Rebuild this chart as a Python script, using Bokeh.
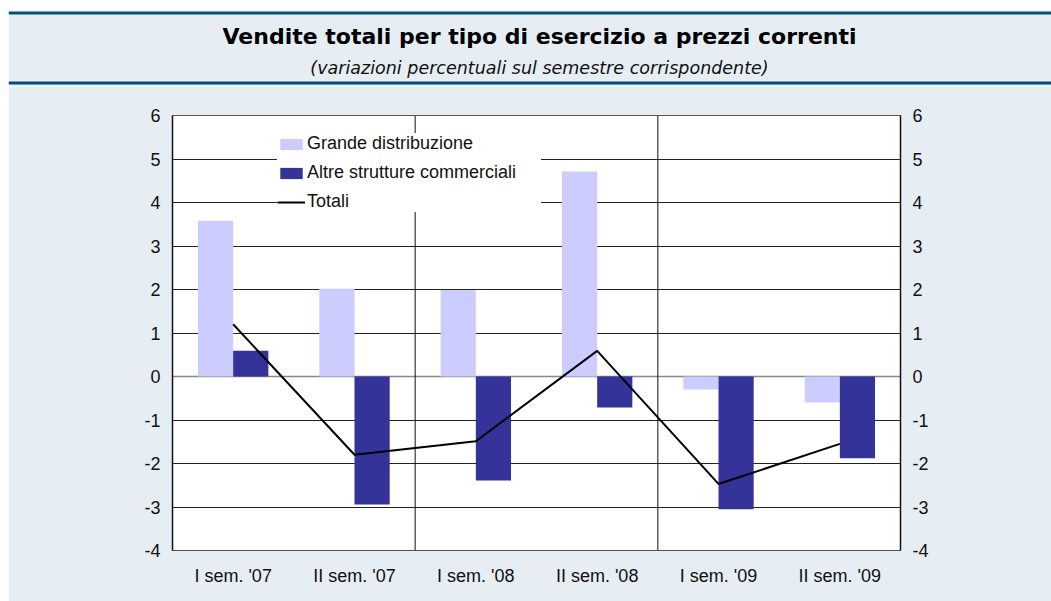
from bokeh.plotting import figure
from bokeh.models import (FactorRange, Range1d, LinearAxis, FixedTicker, Span,
                          Legend, LegendItem, ColumnDataSource, PrintfTickFormatter)
from bokeh.layouts import column
from bokeh.transform import dodge
from bokeh.core.properties import value
from bokeh.embed import file_html
from bokeh.resources import INLINE

# ---- data -------------------------------------------------------------
categories = ["I sem. '07", "II sem. '07", "I sem. '08", "II sem. '08", "I sem. '09", "II sem. '09"]
grande_distribuzione = [3.58, 2.02, 1.99, 4.71, -0.30, -0.60]
altre_strutture = [0.59, -2.94, -2.39, -0.71, -3.05, -1.88]
totali = [1.20, -1.80, -1.49, 0.59, -2.47, -1.55]
y_ticks = [-4, -3, -2, -1, 0, 1, 2, 3, 4, 5, 6]

title_text = "Vendite totali per tipo di esercizio a prezzi correnti"
subtitle_text = "(variazioni percentuali sul semestre corrispondente)"

# ---- style ------------------------------------------------------------
BG = "#E6EEF4"
DARK = "#00507A"
C_GRANDE = "#CCCCFF"
C_ALTRE = "#333399"
FONT = "Liberation Sans"
W = 1043

# ---- header -----------------------------------------------------------
HH = 86
h = figure(width=W, height=HH, x_range=Range1d(0, W), y_range=Range1d(HH, 0),
           x_axis_type=None, y_axis_type=None, toolbar_location=None,
           output_backend="svg", min_border=0, outline_line_color=None,
           background_fill_color="white", border_fill_color="white")
h.margin = (0, 0, 0, 8)
try:
    h.frame_align = False
except Exception:
    pass
h.grid.visible = False
h.quad(left=[0], right=[W], top=[14], bottom=[HH], fill_color=BG, line_color=None)
h.quad(left=[0], right=[W], top=[11], bottom=[14], fill_color=DARK, line_color=None)
h.quad(left=[0], right=[W], top=[81], bottom=[84], fill_color=DARK, line_color=None)
h.text(x=[531], y=[36], text=[title_text], text_align="center", text_baseline="alphabetic",
       text_font=value("DejaVu Sans"), text_font_style="bold", text_font_size="22px",
       text_color="#000000")
h.text(x=[531], y=[67.5], text=[subtitle_text], text_align="center", text_baseline="alphabetic",
       text_font=value("DejaVu Sans"), text_font_style="italic", text_font_size="17.5px",
       text_color="#111111")

# ---- main chart -------------------------------------------------------
p = figure(width=W, height=515, x_range=FactorRange(factors=categories),
           y_range=Range1d(-4, 6), toolbar_location=None, output_backend="svg",
           min_border_left=164, min_border_right=151, min_border_top=29,
           min_border_bottom=51, background_fill_color="white",
           border_fill_color=BG, outline_line_color="#555555")
p.margin = (0, 0, 0, 8)
try:
    p.frame_align = False
except Exception:
    pass

p.xgrid.visible = False
p.ygrid.ticker = FixedTicker(ticks=y_ticks)
p.ygrid.grid_line_color = "#222222"
p.ygrid.grid_line_width = 1

src = ColumnDataSource(dict(cat=categories, g=grande_distribuzione,
                            a=altre_strutture, t=totali))

r_g = p.vbar(x=dodge("cat", -0.145, range=p.x_range), top="g", bottom=0, width=0.29,
             source=src, fill_color=C_GRANDE, line_color=None)
r_a = p.vbar(x=dodge("cat", 0.145, range=p.x_range), top="a", bottom=0, width=0.29,
             source=src, fill_color=C_ALTRE, line_color=None)
r_t = p.line(x="cat", y="t", source=src, line_color="black", line_width=2)

# zero line
p.add_layout(Span(location=0, dimension="width", line_color="#888888", line_width=1.5,
                  level="underlay"))
# year separators
years = [c.split("'")[-1] for c in categories]
for i in range(1, len(categories)):
    if years[i] != years[i - 1]:
        p.add_layout(Span(location=i, dimension="height", line_color="#111111",
                          line_width=1, level="underlay"))

# axes
p.yaxis.ticker = FixedTicker(ticks=y_ticks)
right = LinearAxis(ticker=FixedTicker(ticks=y_ticks))
p.add_layout(right, "right")

for ax in list(p.yaxis) + [right]:
    ax.formatter = PrintfTickFormatter(format="%d")
    ax.major_tick_out = 0
    ax.major_tick_in = 0
    ax.minor_tick_out = 0
    ax.minor_tick_in = 0
    ax.axis_line_color = "#111111"
    ax.axis_line_width = 1.5
    ax.major_label_text_font = FONT
    ax.major_label_text_font_size = "18px"
    ax.major_label_text_color = "#111111"
    ax.major_label_standoff = 12

p.xaxis.major_tick_out = 0
p.xaxis.major_tick_in = 0
p.xaxis.axis_line_color = "#555555"
p.xaxis.major_label_text_font = FONT
p.xaxis.major_label_text_font_size = "18px"
p.xaxis.major_label_text_color = "#111111"
p.xaxis.major_label_standoff = 15

legend = Legend(items=[LegendItem(label="Grande distribuzione", renderers=[r_g]),
                       LegendItem(label="Altre strutture commerciali", renderers=[r_a]),
                       LegendItem(label="Totali", renderers=[r_t])],
                location=(105, 338), orientation="vertical",
                background_fill_color="white", background_fill_alpha=1.0,
                border_line_color=None, padding=6, spacing=8,
                glyph_width=28, glyph_height=14, label_standoff=2,
                label_text_font=FONT, label_text_font_size="18px",
                label_text_color="#111111", label_width=234, margin=0)
p.add_layout(legend, "center")

layout = column(h, p, spacing=0)
open("out.html", "w").write(file_html(layout, INLINE))
